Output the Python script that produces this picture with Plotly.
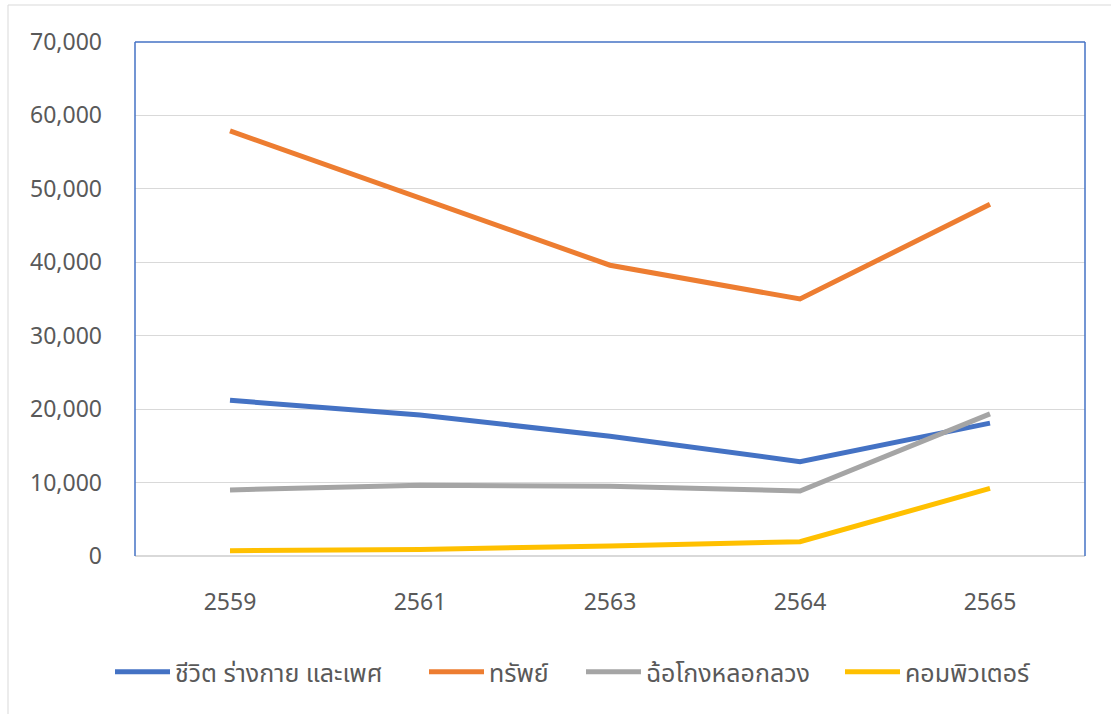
import plotly.graph_objects as go

years = ["2559", "2561", "2563", "2564", "2565"]
life_body_sex = [21200, 19200, 16300, 12850, 18100]
property_ = [57900, 48750, 39600, 35000, 47900]
fraud = [9000, 9650, 9500, 8850, 19350]
computer = [720, 900, 1360, 1950, 9200]

series_names = ["ชีวิต ร่างกาย และเพศ", "ทรัพย์", "ฉ้อโกงหลอกลวง", "คอมพิวเตอร์"]
series_values = [life_body_sex, property_, fraud, computer]
colors = ["#4472C4", "#ED7D31", "#A5A5A5", "#FFC000"]

FONT = "Noto Sans Thai, Leelawadee UI, Tahoma, Noto Sans, sans-serif"

W, H = 1111, 714
L, R, T, B = 135, 26, 42, 158
pw, ph = W - L - R, H - T - B

def px(x):
    return (x - L) / pw

def py(y):
    return (H - B - y) / ph

legend_x_px = [110, 424, 581, 840]
legend_keys = ["legend", "legend2", "legend3", "legend4"]

fig = go.Figure()
for name, vals, c, lk in zip(series_names, series_values, colors, legend_keys):
    fig.add_trace(go.Scatter(x=years, y=vals, name=name, mode="lines",
                             line=dict(color=c, width=5), legend=lk))

shapes = [
    dict(type="rect", xref="paper", yref="paper", x0=px(8), x1=px(1200), y0=py(5), y1=py(800),
         line=dict(color="#D9D9D9", width=1), layer="below"),
    dict(type="line", xref="paper", yref="paper", x0=0, x1=0, y0=0, y1=1,
         line=dict(color="#4472C4", width=1.5)),
    dict(type="line", xref="paper", yref="paper", x0=0, x1=1, y0=1, y1=1,
         line=dict(color="#4472C4", width=1.5)),
    dict(type="line", xref="paper", yref="paper", x0=1, x1=1, y0=0, y1=1,
         line=dict(color="#4472C4", width=1.5)),
]

legend_common = dict(orientation="h", yanchor="middle", y=py(672), xanchor="left",
                     font=dict(family=FONT, size=25, color="#595959"),
                     itemwidth=55, bgcolor="rgba(0,0,0,0)")

layout_kwargs = {}
for lk, lx in zip(legend_keys, legend_x_px):
    layout_kwargs[lk] = dict(legend_common, x=px(lx))

fig.update_layout(
    width=W, height=H,
    margin=dict(l=L, r=R, t=T, b=B, pad=0),
    paper_bgcolor="white", plot_bgcolor="white",
    font=dict(family=FONT, size=23, color="#595959"),
    showlegend=True,
    shapes=shapes,
    xaxis=dict(type="category", range=[-0.5, 4.5], showgrid=False, zeroline=False, showline=False,
               ticks="", ticklabelstandoff=30,
               tickfont=dict(family=FONT, size=23, color="#595959")),
    yaxis=dict(range=[0, 70000], dtick=10000, tickformat=",d",
               showgrid=True, gridcolor="#D9D9D9", gridwidth=1,
               zeroline=True, zerolinecolor="#D9D9D9", zerolinewidth=1.5,
               showline=False, ticks="", ticklabelstandoff=32,
               tickfont=dict(family=FONT, size=23, color="#595959")),
    **layout_kwargs,
)

fig.write_html("out.html", config={"displayModeBar": False},
               post_script="document.body.style.margin='0px';")
